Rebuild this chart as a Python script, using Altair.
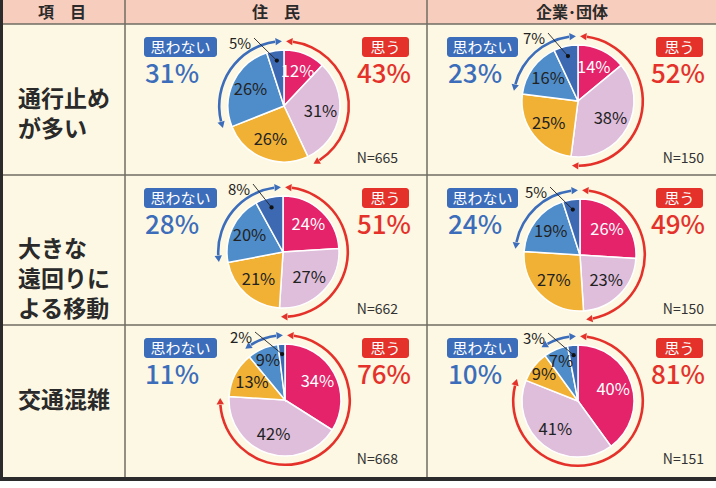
import math
import altair as alt
import pandas as pd

W, H = 716, 488
FONT = "Noto Sans CJK JP"

# ---------------- data ----------------
items = ["通行止め\nが多い", "大きな\n遠回りに\nよる移動", "交通混雑"]
groups = ["住　民", "企業･団体"]
cats = ["そう思う", "ややそう思う", "どちらともいえない", "あまりそう思わない", "そう思わない"]
cat_colors = ["#e4236a", "#dfbedb", "#f1b134", "#4f8dca", "#3c69b2"]

res_vals = [[12, 31, 26, 26, 5], [24, 27, 21, 20, 8], [34, 42, 13, 9, 2]]
corp_vals = [[14, 38, 25, 16, 7], [26, 23, 27, 19, 5], [40, 41, 9, 7, 3]]
res_agree = [43, 51, 76]
res_disagree = [31, 28, 11]
res_n = [665, 662, 668]
corp_agree = [52, 49, 81]
corp_disagree = [23, 24, 10]
corp_n = [150, 150, 151]

# ---------------- layout ----------------
ROW_TOP = [24, 175, 325]
ROW_MID = [100, 250, 401]
PIE_CX = {"res": [284, 283, 285], "corp": [578, 580, 578]}
PIE_CY = {"res": [106, 252, 400], "corp": [101, 255, 401]}
BLUE_BOX = {"res": (144, 217), "corp": (447, 518)}
RED_BOX = {"res": (362, 409), "corp": (656, 703)}
N_X = {"res": 398, "corp": 704}
R_PIE = 56
R_ARROW = 64.8
INSET = 2.2

BLUE = "#3c6dbb"
RED = "#e4322b"

xs = alt.Scale(domain=[0, W], nice=False, zero=False)
ys = alt.Scale(domain=[0, H], nice=False, zero=False, reverse=True)


def X(f):
    return alt.X(f, type="quantitative", scale=xs, axis=None)


def Y(f):
    return alt.Y(f, type="quantitative", scale=ys, axis=None)


theta_scale = alt.Scale(domain=[0, 100])

slices, labels, outs, dots, leaders, arcs, heads = [], [], [], [], [], [], []
boxes, box_txt, pcts, ns = [], [], [], []

for key, vals_all, agree, dis, nn in [
    ("res", res_vals, res_agree, res_disagree, res_n),
    ("corp", corp_vals, corp_agree, corp_disagree, corp_n),
]:
    for r in range(3):
        cx, cy = PIE_CX[key][r], PIE_CY[key][r]
        pie = f"{key}{r}"
        cum = 0
        for k, v in enumerate(vals_all[r]):
            slices.append(dict(pie=pie, cat=cats[k], k=k, t0=cum, t1=cum + v, cx=cx, cy=cy))
            mid = (cum + v / 2) / 100 * 2 * math.pi
            if k < 4:
                rl = 37 if v >= 12 else 43
                labels.append(dict(x=cx + rl * math.sin(mid), y=cy - rl * math.cos(mid),
                                   t=f"{v}%", c="white" if k == 0 else "#222222"))
            else:
                dx, dy = cx + 46 * math.sin(mid), cy - 46 * math.cos(mid)
                outs.append(dict(x=cx - 44, y=cy - 62, t=f"{v}%"))
                dots.append(dict(x=dx, y=dy))
                leaders.append(dict(x=cx - 30, y=cy - 68, x2=dx, y2=dy))
            cum += v
        a, d = agree[r], dis[r]
        arcs.append(dict(pie=pie, t0=INSET, t1=a - INSET, cx=cx, cy=cy, c=RED))
        arcs.append(dict(pie=pie, t0=100 - d + INSET, t1=100 - INSET, cx=cx, cy=cy, c=BLUE))
        for pos, sgn, col in [
            (INSET - 0.9, -1, RED), (a - INSET + 0.9, 1, RED),
            (100 - d + INSET - 0.9, -1, BLUE), (100 - INSET + 0.9, 1, BLUE),
        ]:
            deg = pos * 3.6
            rad = math.radians(deg)
            heads.append(dict(x=cx + R_ARROW * math.sin(rad), y=cy - R_ARROW * math.cos(rad),
                              ang=(deg + 90 * sgn) % 360, c=col))
        top = ROW_TOP[r]
        bx0, bx1 = BLUE_BOX[key]
        rx0, rx1 = RED_BOX[key]
        boxes.append(dict(x=bx0, x2=bx1, y=top + 13, y2=top + 33, c=BLUE))
        boxes.append(dict(x=rx0, x2=rx1, y=top + 13, y2=top + 33, c=RED))
        box_txt.append(dict(x=(bx0 + bx1) / 2, y=top + 23.5, t="思わない"))
        box_txt.append(dict(x=(rx0 + rx1) / 2, y=top + 23.5, t="思う"))
        pcts.append(dict(x=bx0 + 1, y=top + 51, t=f"{d}%", c=BLUE, al="left"))
        pcts.append(dict(x=rx1 + 2, y=top + 51, t=f"{a}%", c=RED, al="right"))
        ns.append(dict(x=N_X[key], y=top + 135, t=f"N={nn[r]}"))

# ---------------- table ----------------
bg = pd.DataFrame([
    dict(x=0, x2=W, y=0, y2=24, c="#f7cdbd"),
    dict(x=0, x2=W, y=24, y2=478, c="#fdf8e3"),
])
rules = pd.DataFrame([
    dict(x=0, x2=W, y=24, y2=24, c="#6f6d63", w=1.5),
    dict(x=0, x2=W, y=175, y2=175, c="#6f6d63", w=1.5),
    dict(x=0, x2=W, y=325, y2=325, c="#6f6d63", w=1.5),
    dict(x=125, x2=125, y=0, y2=478, c="#6f6d63", w=1.5),
    dict(x=427, x2=427, y=0, y2=478, c="#6f6d63", w=1.5),
    dict(x=1.5, x2=1.5, y=0, y2=481, c="#2b2b2b", w=3),
    dict(x=0, x2=W, y=479, y2=479, c="#2b2b2b", w=4),
])
header = pd.DataFrame([
    dict(x=62, y=12.5, t="項　目"),
    dict(x=276, y=12.5, t=groups[0]),
    dict(x=572, y=12.5, t=groups[1]),
])
rowlab = pd.DataFrame([dict(x=18, y=ROW_MID[i], t=items[i]) for i in range(3)])

base_bg = alt.Chart(bg).mark_rect().encode(
    x=X("x"), x2="x2", y=Y("y"), y2="y2", color=alt.Color("c:N", scale=None))
base_rules = alt.Chart(rules).mark_rule().encode(
    x=X("x"), x2="x2", y=Y("y"), y2="y2",
    color=alt.Color("c:N", scale=None), strokeWidth=alt.StrokeWidth("w:Q", scale=None))
t_header = alt.Chart(header).mark_text(font=FONT, fontSize=16, fontWeight="bold", color="#2a2a2a",
                                       baseline="middle").encode(x=X("x"), y=Y("y"), text="t:N")
t_rows = alt.Chart(rowlab).mark_text(font=FONT, fontSize=23, fontWeight="bold", color="#2a2a2a",
                                     align="left", baseline="middle", lineBreak="\n",
                                     lineHeight=30).encode(x=X("x"), y=Y("y"), text="t:N")

pie_layer = alt.Chart(pd.DataFrame(slices)).mark_arc(outerRadius=R_PIE, stroke="white",
                                                       strokeWidth=1.5).encode(
    x=X("cx"), y=Y("cy"),
    theta=alt.Theta("t0:Q", scale=theta_scale), theta2="t1",
    color=alt.Color("cat:N", scale=alt.Scale(domain=cats, range=cat_colors), legend=None))
arc_layer = alt.Chart(pd.DataFrame(arcs)).mark_arc(innerRadius=R_ARROW - 1.3,
                                                     outerRadius=R_ARROW + 1.3).encode(
    x=X("cx"), y=Y("cy"),
    theta=alt.Theta("t0:Q", scale=theta_scale), theta2="t1",
    color=alt.Color("c:N", scale=None))
head_layer = alt.Chart(pd.DataFrame(heads)).mark_point(shape="triangle-up", filled=True, size=55,
                                                         opacity=1).encode(
    x=X("x"), y=Y("y"), angle=alt.Angle("ang:Q", scale=None),
    color=alt.Color("c:N", scale=None))
lbl_layer = alt.Chart(pd.DataFrame(labels)).mark_text(font=FONT, fontSize=16.5,
                                                        baseline="middle").encode(
    x=X("x"), y=Y("y"), text="t:N", color=alt.Color("c:N", scale=None))
out_layer = alt.Chart(pd.DataFrame(outs)).mark_text(font=FONT, fontSize=15, baseline="middle",
                                                      color="#222222").encode(
    x=X("x"), y=Y("y"), text="t:N")
lead_layer = alt.Chart(pd.DataFrame(leaders)).mark_rule(color="#222222", strokeWidth=0.9).encode(
    x=X("x"), x2="x2", y=Y("y"), y2="y2")
dot_layer = alt.Chart(pd.DataFrame(dots)).mark_point(filled=True, size=18, color="#111111",
                                                       opacity=1).encode(x=X("x"), y=Y("y"))
box_layer = alt.Chart(pd.DataFrame(boxes)).mark_rect(cornerRadius=3).encode(
    x=X("x"), x2="x2", y=Y("y"), y2="y2", color=alt.Color("c:N", scale=None))
boxt_layer = alt.Chart(pd.DataFrame(box_txt)).mark_text(font=FONT, fontSize=15, color="white",
                                                          baseline="middle").encode(
    x=X("x"), y=Y("y"), text="t:N")
pdf = pd.DataFrame(pcts)
pct_l = alt.Chart(pdf[pdf.al == "left"]).mark_text(font=FONT, fontSize=26, fontWeight=500,
                                                   align="left", baseline="middle").encode(
    x=X("x"), y=Y("y"), text="t:N", color=alt.Color("c:N", scale=None))
pct_r = alt.Chart(pdf[pdf.al == "right"]).mark_text(font=FONT, fontSize=26, fontWeight=500,
                                                    align="right", baseline="middle").encode(
    x=X("x"), y=Y("y"), text="t:N", color=alt.Color("c:N", scale=None))
n_layer = alt.Chart(pd.DataFrame(ns)).mark_text(font=FONT, fontSize=14, color="#333333",
                                                  align="right", baseline="middle").encode(
    x=X("x"), y=Y("y"), text="t:N")

chart = alt.layer(
    base_bg, base_rules, t_header, t_rows,
    arc_layer, head_layer, pie_layer, lbl_layer, lead_layer, dot_layer, out_layer,
    box_layer, boxt_layer, pct_l, pct_r, n_layer,
).properties(width=W, height=H, autosize="none", padding=0, background="white").configure_view(
    stroke=None)

chart.save("out.html", embed_options={"renderer": "svg", "actions": False})
